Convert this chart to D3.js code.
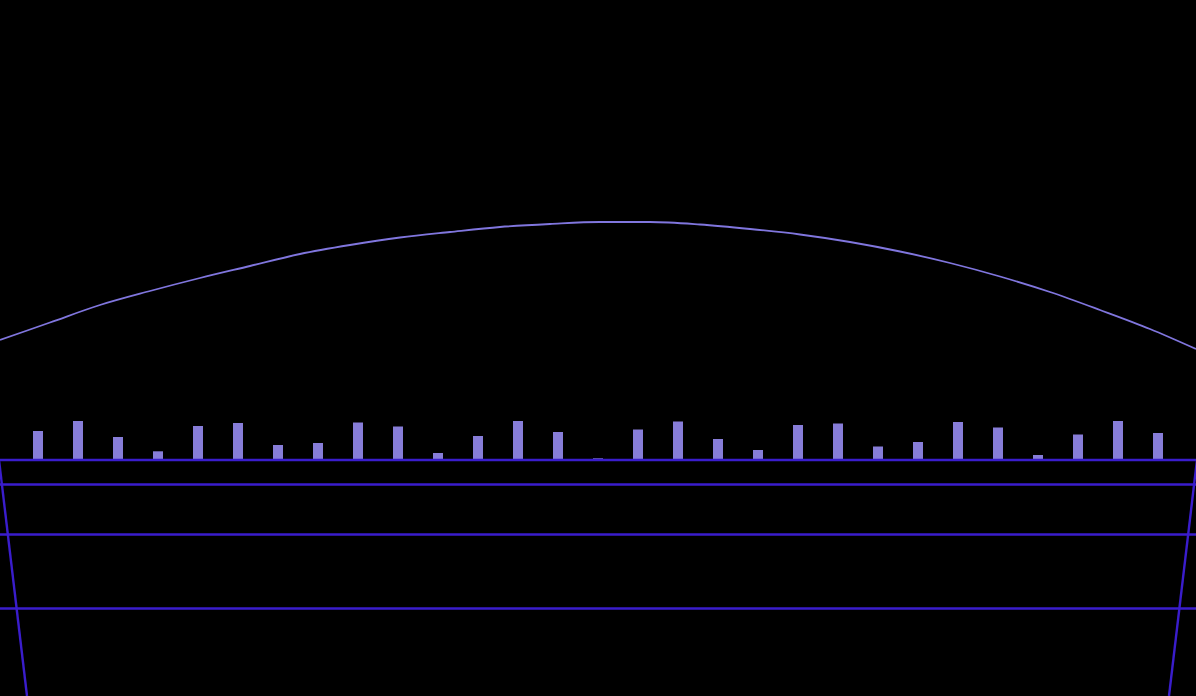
<!DOCTYPE html>
<html>
<head>
<meta charset="utf-8">
<script src="https://cdn.jsdelivr.net/npm/d3@7"></script>
<style>
  html, body { margin: 0; padding: 0; background: #000; overflow: hidden; }
  svg { display: block; }
</style>
</head>
<body>
<svg id="chart" width="1196" height="696"></svg>
<script>
// ---- data ----
const categories = d3.range(29).map(i => "B" + (i + 1));
const barValues = [29, 39, 23, 8.7, 34, 37, 15, 17, 37.5, 33.5,
                   7, 24, 39, 28, 1.7, 30.5, 38.5, 21, 10, 35,
                   36.5, 13.5, 18, 38, 32.5, 5, 25.5, 39, 27];
// arc series: positions expressed in category-index units, values in bar units
const arcX = [-0.95, 0.3, 1.55, 2.8, 4.05, 5.3, 6.55, 7.8, 9.05, 10.3, 11.55, 12.8,
              14.05, 15.3, 16.55, 17.8, 19.05, 20.3, 21.55, 22.8, 24.05, 25.3, 26.55, 27.8, 28.95];
const arcValues = [120, 137.5, 155, 169, 182, 194, 206, 215, 222.5, 228, 233, 236,
                   238, 238, 235.5, 231, 225.5, 218, 208.5, 197, 183.5, 168, 150, 131, 111];
// perspective floor lines (in bar units, below zero)
const floorLevels = [0, -24.5, -74.5, -148.5];

// ---- scales ----
const W = 1196, H = 696;
const x = d3.scaleLinear().domain([0, 28]).range([38, 1158]);
const y = d3.scaleLinear().domain([0, 40]).range([460, 420]);
const barW = 10;

const svg = d3.select("#chart");
svg.append("rect").attr("width", W).attr("height", H).attr("fill", "#000");

const barColor = "#877dd8";
const gridColor = "#3a1dcc";
const arcColor = "#8076de";

// arc line
svg.append("path")
  .datum(arcX.map((v, i) => [v, arcValues[i]]))
  .attr("fill", "none")
  .attr("stroke", arcColor)
  .attr("stroke-width", 1.8)
  .attr("d", d3.line().curve(d3.curveMonotoneX).x(d => x(d[0])).y(d => y(d[1])));

// bars
svg.append("g").selectAll("rect")
  .data(barValues)
  .join("rect")
  .attr("x", (d, i) => x(i) - barW / 2)
  .attr("y", d => y(d))
  .attr("width", barW)
  .attr("height", d => y(0) - y(d))
  .attr("fill", barColor);

// floor horizontal lines
svg.append("g").selectAll("line")
  .data(floorLevels)
  .join("line")
  .attr("x1", 0).attr("x2", W)
  .attr("y1", d => y(d)).attr("y2", d => y(d))
  .attr("stroke", gridColor)
  .attr("stroke-width", 2.4);

// floor diagonal lines
const diag = [[-1, 27], [W + 1, W - 27]];
svg.append("g").selectAll("line")
  .data(diag)
  .join("line")
  .attr("x1", d => d[0]).attr("y1", y(0))
  .attr("x2", d => d[1]).attr("y2", H)
  .attr("stroke", gridColor)
  .attr("stroke-width", 2.4);
</script>
</body>
</html>
